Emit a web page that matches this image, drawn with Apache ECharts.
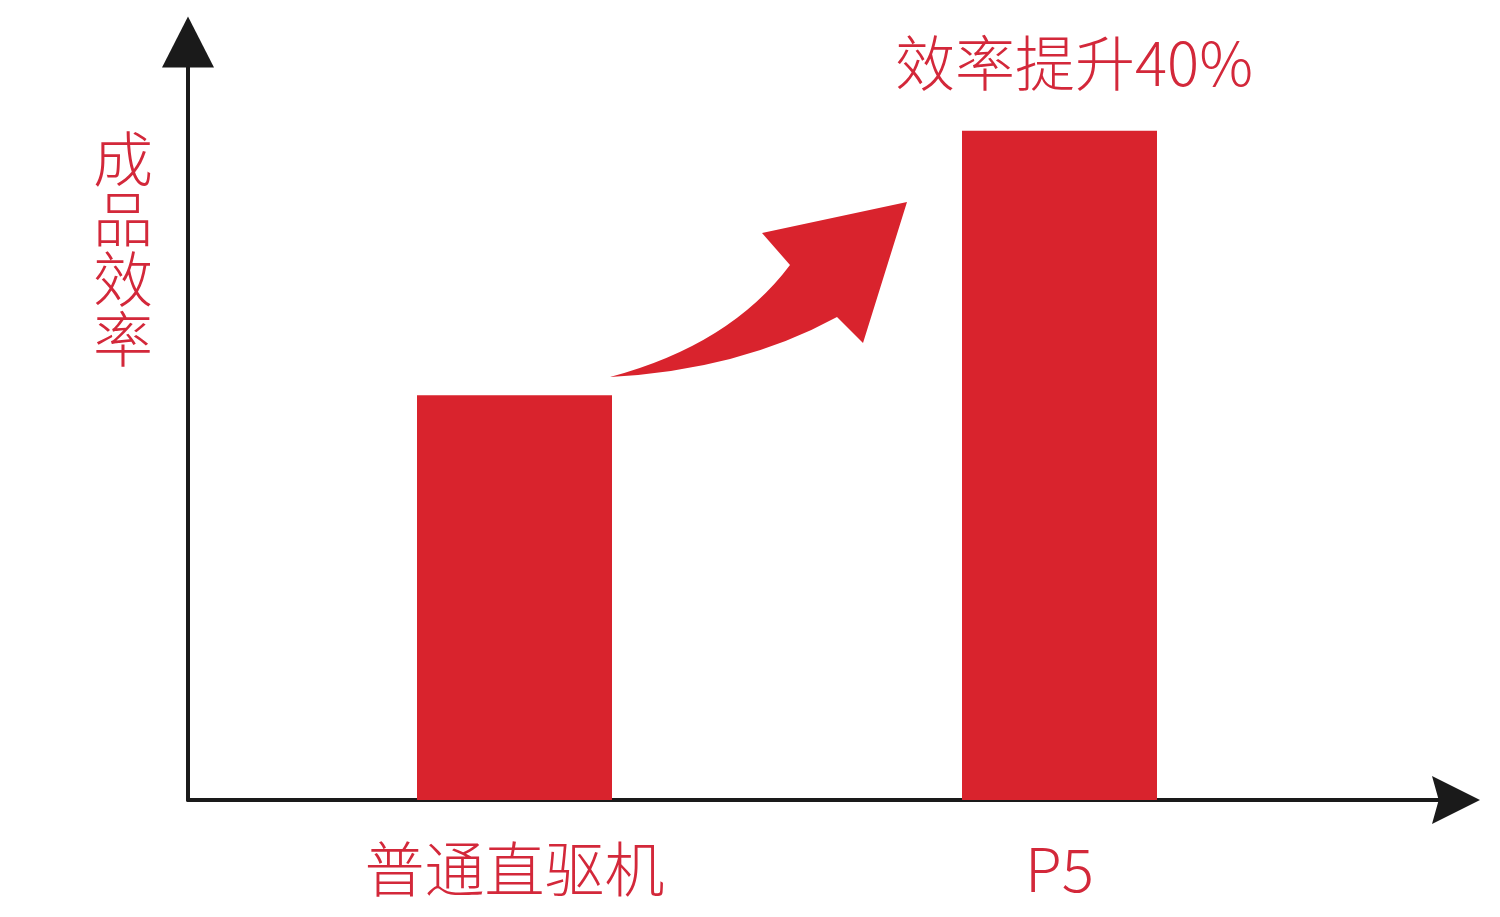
<!DOCTYPE html>
<html>
<head>
<meta charset="utf-8">
<title>成品效率</title>
<script src="https://cdn.jsdelivr.net/npm/echarts@6/dist/echarts.min.js"></script>
<style>
  html, body { margin: 0; padding: 0; background: #fff; }
  #main { width: 1500px; height: 917px; }
</style>
</head>
<body>
<div id="main"></div>
<script>
// data (y axis has no ticks, 0..100 is the drawn height)
var machines = ['普通直驱机', 'P5'];
var efficiency = [53.4, 88.3];
var yName = '成品效率';
var gainText = '效率提升40%';

var red = '#d9232d';
var textRed = '#d3283a';
var font = '"Noto Sans CJK SC", "Noto Sans", sans-serif';

// curved "rising" arrow between the bars (decoration, page pixels)
var risePath = 'M610,377 Q730,345 790,265 L762,233 L907,202 L863,343 L837,317 Q740,370 610,377 Z';

var myChart = echarts.init(document.getElementById('main'));

var option = {
    animation: false,
    backgroundColor: '#fff',
    title: [{
        // y axis name, written top to bottom
        text: yName.split('').join('\n'),
        left: 88,
        top: 124,
        textStyle: {
            color: textRed,
            fontFamily: font,
            fontWeight: 300,
            fontSize: 60,
            lineHeight: 60
        }
    }, {
        text: gainText,
        left: 890,
        top: 28,
        textStyle: {
            color: textRed,
            fontFamily: font,
            fontWeight: 300,
            fontSize: 60
        }
    }],
    grid: [
        // grid 0 only carries the two arrow axes
        { left: 188, right: 44, top: 42, bottom: 117 },
        // grid 1 carries the bars, sized so the two category centres sit under the bars
        { left: 242, right: 168, top: 42, bottom: 117 }
    ],
    xAxis: [{
        gridIndex: 0,
        type: 'value',
        min: 0,
        max: 1,
        axisLine: {
            show: true,
            symbol: ['none', 'path://M5,0 L10,10 L5,8.6 L0,10 Z'],
            symbolSize: [48, 57],
            lineStyle: { color: '#1a1a1a', width: 4 }
        },
        axisTick: { show: false },
        axisLabel: { show: false },
        splitLine: { show: false }
    }, {
        gridIndex: 1,
        type: 'category',
        data: machines,
        axisLine: { show: false },
        axisTick: { show: false },
        axisLabel: {
            margin: 39,
            color: textRed,
            fontFamily: font,
            fontWeight: 300,
            fontSize: 60
        }
    }],
    yAxis: [{
        gridIndex: 0,
        type: 'value',
        min: 0,
        max: 100,
        axisLine: {
            show: true,
            symbol: ['none', 'triangle'],
            symbolSize: [52, 51],
            lineStyle: { color: '#1a1a1a', width: 4 }
        },
        axisTick: { show: false },
        axisLabel: { show: false },
        splitLine: { show: false }
    }, {
        gridIndex: 1,
        type: 'value',
        min: 0,
        max: 100,
        axisLine: { show: false },
        axisTick: { show: false },
        axisLabel: { show: false },
        splitLine: { show: false }
    }],
    series: [{
        name: yName,
        type: 'bar',
        xAxisIndex: 1,
        yAxisIndex: 1,
        barWidth: 195,
        data: efficiency,
        itemStyle: { color: red },
        z: 1
    }, {
        name: 'arrow',
        type: 'custom',
        coordinateSystem: 'none',
        silent: true,
        z: 10,
        data: [0],
        renderItem: function() {
            return {
                type: 'path',
                shape: {
                    pathData: risePath,
                    x: 610,
                    y: 202,
                    width: 297,
                    height: 175
                },
                style: { fill: red }
            };
        }
    }]
};

myChart.setOption(option);

window.addEventListener('resize', function() {
    myChart.resize();
});
</script>
</body>
</html>
